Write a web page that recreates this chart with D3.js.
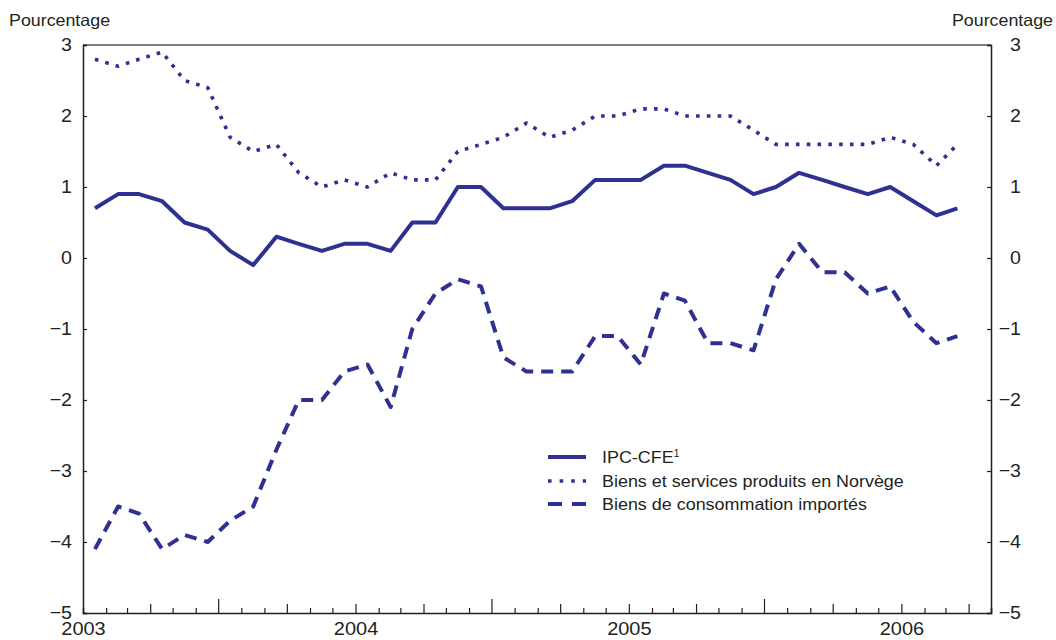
<!DOCTYPE html>
<html><head><meta charset="utf-8">
<script src="https://cdn.jsdelivr.net/npm/d3@7"></script>
<style>
body{margin:0;background:#fff;}
svg text{font-family:"Liberation Sans",Arial,Helvetica,sans-serif;fill:#231f20;}
</style></head>
<body><svg id="c" width="1056" height="640"></svg>
<script>
// Monthly data, Jan 2003 – Mar 2006 (12-month change, %)
const months = d3.range(39).map(i => new Date(2003, i, 17));
const ipcCfe = [0.7,0.9,0.9,0.8,0.5,0.4,0.1,-0.1,0.3,0.2,0.1,0.2,0.2,0.1,0.5,0.5,1.0,1.0,0.7,0.7,0.7,0.8,1.1,1.1,1.1,1.3,1.3,1.2,1.1,0.9,1.0,1.2,1.1,1.0,0.9,1.0,0.8,0.6,0.7];
const norvege = [2.8,2.7,2.8,2.9,2.5,2.4,1.7,1.5,1.6,1.2,1.0,1.1,1.0,1.2,1.1,1.1,1.5,1.6,1.7,1.9,1.7,1.8,2.0,2.0,2.1,2.1,2.0,2.0,2.0,1.8,1.6,1.6,1.6,1.6,1.6,1.7,1.6,1.3,1.6];
const importes = [-4.1,-3.5,-3.6,-4.1,-3.9,-4.0,-3.7,-3.5,-2.7,-2.0,-2.0,-1.6,-1.5,-2.1,-1.0,-0.5,-0.3,-0.4,-1.4,-1.6,-1.6,-1.6,-1.1,-1.1,-1.5,-0.5,-0.6,-1.2,-1.2,-1.3,-0.3,0.2,-0.2,-0.2,-0.5,-0.4,-0.9,-1.2,-1.1];
const yTicks = [3,2,1,0,-1,-2,-3,-4,-5];
const yearTicks = ["2003","2004","2005","2006"];
const seriesNames = ["IPC-CFE","Biens et services produits en Norvège","Biens de consommation importés"];
const axisTitle = "Pourcentage";

const svg = d3.select("#c");
const L = 83, R = 991, T = 45, B = 613;
const col = "#2e3192";
const x = d3.scaleTime().domain([new Date(2003,0,1), new Date(2006,4,1)]).range([L, R]);
const y = d3.scaleLinear().domain([-5, 3]).range([B, T]);

function stretch(sel, f){
  sel.each(function(){
    const w = this.getComputedTextLength();
    if (w > 0) d3.select(this).attr("textLength", w*f).attr("lengthAdjust","spacingAndGlyphs");
  });
}

// frame top line
svg.append("line").attr("x1",L).attr("x2",R).attr("y1",T).attr("y2",T)
  .attr("stroke","#555").attr("stroke-width",1.5);

const ga = svg.append("g").attr("transform",`translate(${L},0)`)
  .call(d3.axisLeft(y).tickValues(yTicks).tickSize(-4).tickPadding(11).tickFormat(d3.format("d")));
const gb = svg.append("g").attr("transform",`translate(${R},0)`)
  .call(d3.axisRight(y).tickValues(yTicks).tickSize(-4).tickPadding(30).tickFormat(d3.format("d")));
gb.selectAll("text").attr("text-anchor","end");
const monthTicks = d3.timeMonth.range(new Date(2003,1,1), new Date(2006,4,2));
const gx = svg.append("g").attr("transform",`translate(0,${B})`)
  .call(d3.axisBottom(x).tickValues(monthTicks).tickSize(-5).tickFormat(""));
gx.selectAll(".tick line").attr("y2", d => d.getMonth()===6 ? -14 : (d.getMonth()%3===0 ? -9 : -5));
const gy = svg.append("g").attr("transform",`translate(0,${B})`)
  .call(d3.axisBottom(x).tickValues(yearTicks.map(s=>new Date(+s,0,1))).tickSize(0).tickPadding(9).tickFormat(d3.timeFormat("%Y")));
gy.select(".domain").remove();

[ga,gb,gx,gy].forEach(g=>{
  g.selectAll("text").style("font-size","18.5px").style("font-family","'Liberation Sans',Arial,sans-serif").attr("fill","#231f20");
  g.selectAll(".domain").attr("stroke","#231f20").attr("stroke-width",1.5);
  g.selectAll(".tick line").attr("stroke","#231f20").attr("stroke-width",1.2);
});
stretch(gy.selectAll("text"), 1.08);
stretch(ga.selectAll("text"), 1.06);
stretch(gb.selectAll("text"), 1.06);

const t1 = svg.append("text").attr("x",9).attr("y",26).style("font-size","16.5px").text(axisTitle);
const t2 = svg.append("text").attr("x",1053).attr("y",26).attr("text-anchor","end").style("font-size","16.5px").text(axisTitle);
stretch(t1, 1.08); stretch(t2, 1.08);

const line = d3.line().x((d,i)=>x(months[i])).y(d=>y(d));
const styles = [
  {data: ipcCfe, w: 4, dash: null},
  {data: norvege, w: 3.6, dash: "3.6 7.2"},
  {data: importes, w: 4, dash: "12 8"}
];
styles.forEach(s=>{
  svg.append("path").datum(s.data).attr("d",line).attr("fill","none")
    .attr("stroke",col).attr("stroke-width",s.w).attr("stroke-linejoin","round")
    .attr("stroke-dasharray",s.dash);
});

// legend
const lg = svg.append("g");
const ly = [457, 481, 504];
styles.forEach((s,i)=>{
  lg.append("line").attr("x1",548).attr("x2",586).attr("y1",ly[i]).attr("y2",ly[i])
    .attr("stroke",col).attr("stroke-width",s.w).attr("stroke-dasharray", i===1 ? "3.6 8" : (i===2 ? "14 10" : null));
  const t = lg.append("text").attr("x",602).attr("y",ly[i]+6).style("font-size","16px");
  const main = t.append("tspan").text(seriesNames[i]);
  stretch(main, 1.12);
  if(i===0) t.append("tspan").attr("dy",-6).style("font-size","10px").text("1");
});
</script></body></html>
